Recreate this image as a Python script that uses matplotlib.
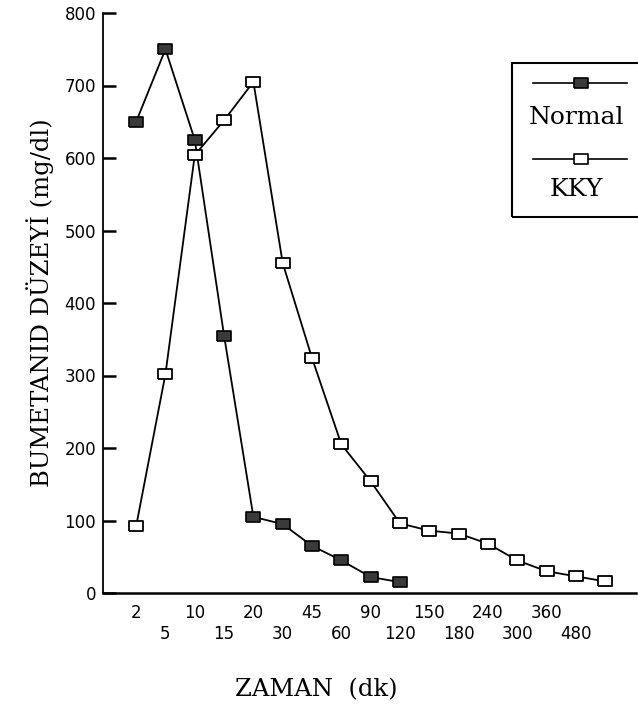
import matplotlib
matplotlib.use("Agg")
import matplotlib.pyplot as plt
from matplotlib.patches import Rectangle
from matplotlib.lines import Line2D

# ---- data ----
time_labels = ["2", "5", "10", "15", "20", "30", "45", "60", "90", "120",
               "150", "180", "240", "300", "360", "480", ""]
normal_values = [650, 750, 625, 355, 105, 95, 65, 45, 22, 15]
kky_values = [92, 302, 604, 652, 705, 455, 324, 205, 154, 96, 86, 82, 68,
              45, 30, 23, 16]
y_ticks = [0, 100, 200, 300, 400, 500, 600, 700, 800]

W, H = 638, 707
fig = plt.figure(figsize=(W / 100, H / 100), dpi=100)
ax = fig.add_axes([103 / W, 1 - 593 / H, (636 - 103) / W, (593 - 13) / H])

rect_marker = [(-1.0, -0.75), (1.0, -0.75), (1.0, 0.75), (-1.0, 0.75), (-1.0, -0.75)]

xn = list(range(len(normal_values)))
xk = list(range(len(kky_values)))
ax.plot(xn, normal_values, color="black", lw=1.3, marker=rect_marker,
        markersize=10, markerfacecolor="#3a3a3a", markeredgecolor="black",
        markeredgewidth=1.2, zorder=3)
ax.plot(xk, kky_values, color="black", lw=1.3, marker=rect_marker,
        markersize=10, markerfacecolor="white", markeredgecolor="black",
        markeredgewidth=1.3, zorder=4)

ax.set_xlim(-1.13, 17.05)
ax.set_ylim(0, 800)
for s in ["top", "right"]:
    ax.spines[s].set_visible(False)
ax.spines["left"].set_linewidth(1.3)
ax.spines["bottom"].set_linewidth(1.8)

ax.set_yticks(y_ticks)
ax.set_yticklabels([str(v) for v in y_ticks], fontsize=12, family="DejaVu Sans")
ax.tick_params(axis="y", direction="in", length=9, width=1.8, pad=5)

ax.set_xticks(range(len(time_labels)))
ax.set_xticklabels([lab if i % 2 == 0 else "\n" + lab
                    for i, lab in enumerate(time_labels)],
                   fontsize=12, family="DejaVu Sans", linespacing=1.2)
ax.tick_params(axis="x", length=0, pad=8)

# axis titles
fig.text(40 / W, 1 - 303 / H, "BUMETANID DÜZEYİ (mg/dl)", rotation=90,
         ha="center", va="center", fontsize=17.5, family="DejaVu Serif")
fig.text(316 / W, 1 - 690 / H, "ZAMAN  (dk)", ha="center", va="center",
         fontsize=17.5, family="DejaVu Serif")

# legend box (custom layout: marker line above label)
fig.patches.append(Rectangle((512 / W, 1 - 217 / H), (660 - 512) / W, (217 - 63) / H,
                             transform=fig.transFigure, fill=False,
                             edgecolor="black", lw=1.5))
for ly, ty, face, lab in [(83, 117, "#3a3a3a", "Normal"), (159, 190, "white", "KKY")]:
    fig.lines.append(Line2D([533 / W, 627 / W], [1 - ly / H, 1 - ly / H],
                            transform=fig.transFigure, color="black", lw=1.2))
    fig.lines.append(Line2D([581 / W], [1 - ly / H], transform=fig.transFigure,
                            marker=rect_marker, markersize=10, markerfacecolor=face,
                            markeredgecolor="black", markeredgewidth=1.2, lw=0))
    fig.text(576 / W, 1 - ty / H, lab, ha="center", va="center", fontsize=18,
             family="DejaVu Serif")

fig.savefig("out.png", dpi=100)
